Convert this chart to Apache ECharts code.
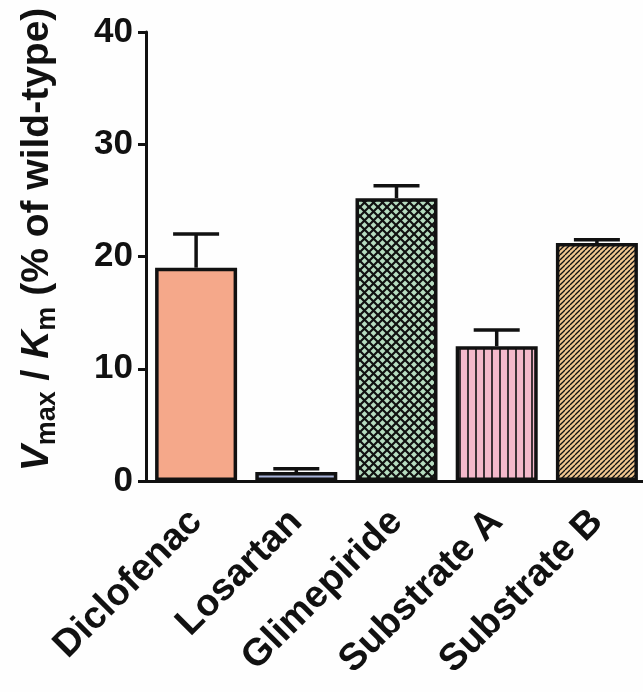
<!DOCTYPE html>
<html lang="en">
<head>
    <meta charset="UTF-8">
    <title>Vmax / Km</title>
    <script src="https://cdn.jsdelivr.net/npm/echarts@6.0.0/dist/echarts.min.js"></script>
    <style>
        html, body { margin: 0; padding: 0; background: #fefefe; }
        #chart { width: 643px; height: 692px; }
    </style>
</head>
<body>
    <div id="chart"></div>
    <script>
        // datos
        const substrates = ["Diclofenac", "Losartan", "Glimepiride", "Substrate A", "Substrate B"];
        const meanValues = [19.0, 0.8, 25.2, 12.0, 21.2];
        const errValues = [3.0, 0.3, 1.1, 1.45, 0.3];
        const yTicks = [0, 10, 20, 30, 40];

        const FONT = "'Liberation Sans', Arial, sans-serif";
        const INK = "#111";

        // tiles para los rellenos rayados
        function makeTile(size, bg, lineW, draw) {
            const c = document.createElement("canvas");
            c.width = size;
            c.height = size;
            const ctx = c.getContext("2d");
            ctx.fillStyle = bg;
            ctx.fillRect(0, 0, size, size);
            ctx.strokeStyle = INK;
            ctx.lineWidth = lineW;
            draw(ctx, size);
            return c;
        }

        const crossTile = makeTile(9, "#b6dcc0", 2.2, (ctx, s) => {
            for (let k = -1; k <= 1; k++) {
                ctx.beginPath();
                ctx.moveTo(k * s, 0); ctx.lineTo(k * s + s, s);
                ctx.moveTo(k * s, s); ctx.lineTo(k * s + s, 0);
                ctx.stroke();
            }
        });
        const vertTile = makeTile(8, "#f4b9cb", 1.6, (ctx, s) => {
            ctx.beginPath();
            ctx.moveTo(s / 2, 0); ctx.lineTo(s / 2, s);
            ctx.stroke();
        });
        const slashTile = makeTile(5, "#f0c690", 1.3, (ctx, s) => {
            for (let k = -1; k <= 1; k++) {
                ctx.beginPath();
                ctx.moveTo(k * s, s); ctx.lineTo(k * s + s, 0);
                ctx.stroke();
            }
        });

        const fills = [
            "#f5a88a",
            "#a9b4da",
            { image: crossTile, repeat: "repeat" },
            { image: vertTile, repeat: "repeat" },
            { image: slashTile, repeat: "repeat" }
        ];

        const barData = meanValues.map((v, i) => ({
            value: v,
            itemStyle: { color: fills[i], borderColor: INK, borderWidth: 3.5 }
        }));
        const errData = meanValues.map((v, i) => [i, v, v + errValues[i]]);

        const chart = echarts.init(document.getElementById("chart"));
        chart.setOption({
            animation: false,
            grid: { left: 146, top: 32, width: 501, height: 449, outerBoundsMode: "none" },
            xAxis: {
                type: "category",
                data: substrates,
                axisLine: { lineStyle: { color: INK, width: 3 } },
                axisTick: { alignWithLabel: true, length: 11, lineStyle: { color: INK, width: 3 } },
                axisLabel: {
                    rotate: 45, margin: 35, color: INK,
                    fontFamily: FONT, fontWeight: "bold", fontSize: 38
                }
            },
            yAxis: {
                type: "value",
                min: yTicks[0],
                max: yTicks[yTicks.length - 1],
                interval: 10,
                splitLine: { show: false },
                axisLine: { show: true, lineStyle: { color: INK, width: 3 } },
                axisTick: { show: true, length: 8, lineStyle: { color: INK, width: 3 } },
                axisLabel: { margin: 13, color: INK, fontFamily: FONT, fontWeight: "bold", fontSize: 35 },
                name: "{it|V}{sub|max}{n| / }{it|K}{sub|m}{n| (% of wild-type)}",
                nameLocation: "middle",
                nameRotate: 90,
                nameGap: 85,
                nameTextStyle: {
                    color: INK, fontFamily: FONT, fontWeight: "bold", fontSize: 39,
                    padding: [0, 0, 0, 34],
                    rich: {
                        it: { fontFamily: FONT, fontWeight: "bold", fontStyle: "italic", fontSize: 39, color: INK },
                        sub: { fontFamily: FONT, fontWeight: "bold", fontSize: 27, color: INK, padding: [20, 0, 0, 0] },
                        n: { fontFamily: FONT, fontWeight: "bold", fontSize: 39, color: INK }
                    }
                }
            },
            series: [
                {
                    type: "bar",
                    data: barData,
                    barWidth: 82,
                    z: 2
                },
                {
                    type: "custom",
                    data: errData,
                    z: 3,
                    renderItem: function (params, api) {
                        const x = api.coord([api.value(0), api.value(1)]);
                        const top = api.coord([api.value(0), api.value(2)]);
                        const half = 23;
                        const st = { stroke: INK, lineWidth: 3.5 };
                        return {
                            type: "group",
                            children: [
                                { type: "line", shape: { x1: x[0], y1: x[1], x2: top[0], y2: top[1] }, style: st },
                                { type: "line", shape: { x1: top[0] - half, y1: top[1], x2: top[0] + half, y2: top[1] }, style: st }
                            ]
                        };
                    }
                }
            ]
        });
    </script>
</body>
</html>
